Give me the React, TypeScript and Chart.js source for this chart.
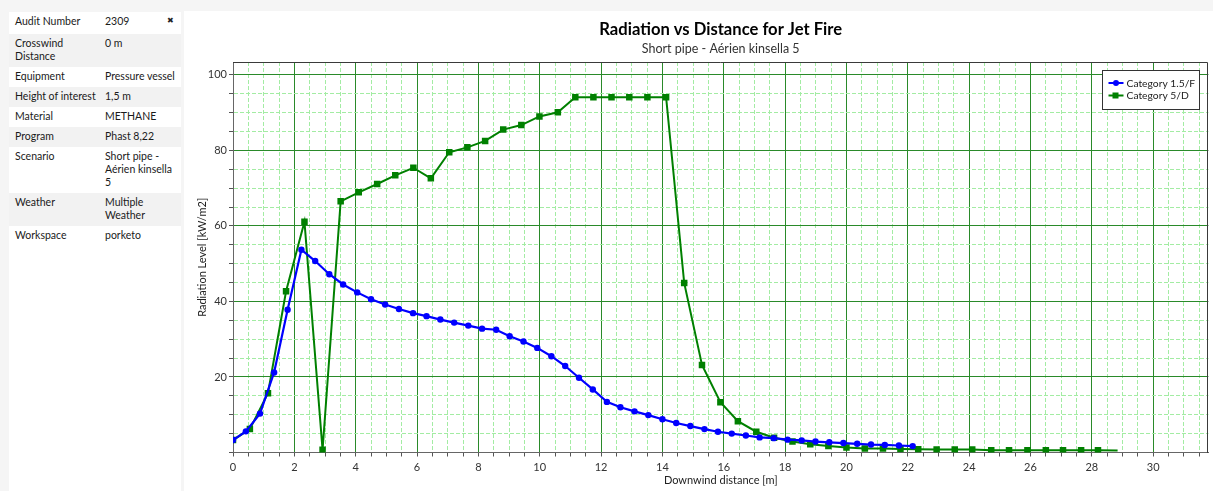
import React, { useEffect, useRef } from "react";
import { Chart, registerables } from "chart.js";

Chart.register(...registerables);

// Study details shown in the side panel
const infoLabels = [
  "Audit Number",
  "Crosswind\nDistance",
  "Equipment",
  "Height of interest",
  "Material",
  "Program",
  "Scenario",
  "Weather",
  "Workspace",
];
const infoValues = [
  "2309",
  "0 m",
  "Pressure vessel",
  "1,5 m",
  "METHANE",
  "Phast 8,22",
  "Short pipe -\nAérien kinsella\n5",
  "Multiple\nWeather",
  "porketo",
];

// Category 1.5/F: downwind distance [m] and radiation level [kW/m2]
const cat15FDistance = [
  0, 0.42, 0.88, 1.34, 1.78, 2.23, 2.68, 3.14, 3.59, 4.05,
  4.5, 4.96, 5.41, 5.87, 6.31, 6.76, 7.21, 7.67, 8.12, 8.58,
  9.02, 9.47, 9.92, 10.38, 10.83, 11.28, 11.73, 12.19, 12.63, 13.09,
  13.54, 14.0, 14.45, 14.91, 15.37, 15.81, 16.26, 16.72, 17.17, 17.63,
  18.08, 18.54, 18.99, 19.44, 19.9, 20.35, 20.8, 21.25, 21.71, 22.16,
];
const cat15FRadiation = [
  3.3, 5.6, 10.3, 21.2, 37.8, 53.7, 50.7, 47.2, 44.5, 42.4,
  40.6, 39.2, 38.0, 36.9, 36.1, 35.2, 34.4, 33.6, 32.8, 32.5,
  30.8, 29.4, 27.7, 25.5, 22.9, 19.8, 16.7, 13.4, 12.0, 10.9,
  9.9, 8.8, 7.8, 7.0, 6.2, 5.5, 5.0, 4.5, 4.0, 3.8,
  3.4, 3.2, 2.9, 2.7, 2.5, 2.3, 2.1, 2.0, 1.85, 1.7,
];

// Category 5/D: downwind distance [m] and radiation level [kW/m2]
const cat5DDistance = [
  0, 0.55, 1.14, 1.73, 2.33, 2.92, 3.51, 4.1, 4.7, 5.29,
  5.88, 6.45, 7.05, 7.64, 8.22, 8.81, 9.4, 9.99, 10.59, 11.16,
  11.75, 12.34, 12.92, 13.51, 14.12, 14.71, 15.29, 15.89, 16.46, 17.06,
  17.64, 18.24, 18.82, 19.41, 20.0, 20.6, 21.19, 21.76, 22.34, 22.94,
  23.53, 24.1, 24.72, 25.3, 25.9, 26.5, 27.06, 27.65, 28.2, 28.84,
];
const cat5DRadiation = [
  3.3, 6.2, 15.7, 42.7, 61.1, 0.7, 66.5, 68.9, 71.1, 73.4,
  75.4, 72.6, 79.5, 80.8, 82.5, 85.5, 86.7, 89.0, 90.1, 94.1,
  94.1, 94.1, 94.1, 94.1, 94.1, 44.9, 23.2, 13.3, 8.3, 5.5,
  3.9, 2.9, 2.2, 1.75, 1.3, 1.05, 1.05, 0.95, 0.87, 0.8,
  0.8, 0.8, 0.6, 0.6, 0.6, 0.6, 0.6, 0.6, 0.6, 0.5,
];

const seriesNames = ["Category 1.5/F", "Category 5/D"];

// Labelled ticks; the grid also carries minor lines between them
const xTickLabels = [0, 2, 4, 6, 8, 10, 12, 14, 16, 18, 20, 22, 24, 26, 28, 30];
const yTickLabels = [20, 40, 60, 80, 100];
const xMinorStep = 0.5;
const yMinorStep = 5;

const FONT = "Lato, 'Noto Sans', sans-serif";

const near = (a: number, b: number) => Math.abs(a - b) < 1e-6;
const isMultiple = (v: number, step: number) => near(v / step, Math.round(v / step));

const MAJOR_GRID = "#2a8a2a";
const MINOR_GRID = "#a3eca3";

// Frame on the top and right of the plot area
const plotFrame = {
  id: "plotFrame",
  afterDatasetsDraw(chart: any) {
    const { ctx, chartArea: a } = chart;
    ctx.save();
    ctx.strokeStyle = "#3a3a3a";
    ctx.lineWidth = 1;
    ctx.beginPath();
    ctx.moveTo(Math.round(a.left), Math.round(a.top) + 0.5);
    ctx.lineTo(Math.round(a.right) - 0.5, Math.round(a.top) + 0.5);
    ctx.lineTo(Math.round(a.right) - 0.5, Math.round(a.bottom));
    ctx.stroke();
    ctx.restore();
  },
};

// Boxed legend in the upper-right corner of the plot
const boxLegend = {
  id: "boxLegend",
  afterDraw(chart: any) {
    const { ctx, chartArea: a } = chart;
    const w = 97;
    const h = 39;
    const x0 = Math.round(a.right - 9 - w) + 0.5;
    const y0 = Math.round(a.top + 8) + 0.5;
    ctx.save();
    ctx.fillStyle = "#ffffff";
    ctx.fillRect(x0, y0, w, h);
    ctx.strokeStyle = "#333333";
    ctx.lineWidth = 1;
    ctx.strokeRect(x0, y0, w, h);
    chart.data.datasets.forEach((ds: any, i: number) => {
      const y = y0 + 12.5 + i * 12.5;
      ctx.strokeStyle = ds.borderColor;
      ctx.lineWidth = 2;
      ctx.beginPath();
      ctx.moveTo(x0 + 6, y);
      ctx.lineTo(x0 + 21, y);
      ctx.stroke();
      ctx.fillStyle = ds.borderColor;
      if (ds.pointStyle === "rect") {
        ctx.fillRect(x0 + 10, y - 3, 6, 6);
      } else {
        ctx.beginPath();
        ctx.arc(x0 + 13.5, y, 3, 0, Math.PI * 2);
        ctx.fill();
      }
      ctx.fillStyle = "#222222";
      ctx.font = `10.3px ${FONT}`;
      ctx.textBaseline = "middle";
      ctx.textAlign = "left";
      ctx.fillText(ds.label, x0 + 24, y + 0.5);
    });
    ctx.restore();
  },
};

function RadiationChart() {
  const canvasRef = useRef<HTMLCanvasElement | null>(null);

  useEffect(() => {
    if (!canvasRef.current) return;
    const toPoints = (xs: number[], ys: number[]) => xs.map((x, i) => ({ x, y: ys[i] }));

    const chart = new Chart(canvasRef.current, {
      type: "line",
      data: {
        datasets: [
          {
            label: seriesNames[0],
            data: toPoints(cat15FDistance, cat15FRadiation),
            borderColor: "#0000ff",
            backgroundColor: "#0000ff",
            borderWidth: 2.2,
            pointStyle: "circle",
            pointRadius: 3.2,
            pointBorderWidth: 0,
            tension: 0,
          },
          {
            label: seriesNames[1],
            data: toPoints(cat5DDistance, cat5DRadiation),
            borderColor: "#008000",
            backgroundColor: "#008000",
            borderWidth: 2,
            pointStyle: "rect",
            pointRadius: (c: any) => (c.dataIndex === cat5DDistance.length - 1 ? 0 : 4.6),
            pointBorderWidth: 0,
            tension: 0,
          },
        ],
      },
      options: {
        animation: false,
        responsive: false,
        devicePixelRatio: 1,
        layout: { padding: { left: 0, right: 2, top: 0, bottom: 0 } },
        plugins: {
          legend: { display: false },
          tooltip: { enabled: false },
          title: {
            display: true,
            text: "Radiation vs Distance for Jet Fire",
            color: "#000000",
            font: { family: FONT, size: 16.6, weight: "bold", lineHeight: 1.2 },
            padding: { top: 8.5, bottom: 0 },
            fullSize: false,
          },
          subtitle: {
            display: true,
            text: "Short pipe - Aérien kinsella 5",
            color: "#333333",
            font: { family: FONT, size: 12.5, lineHeight: 1.2 },
            padding: { top: 2, bottom: 5.6 },
            fullSize: false,
          },
        },
        scales: {
          x: {
            type: "linear",
            min: 0,
            max: 31.8,
            afterBuildTicks: (scale: any) => {
              const ticks = [];
              for (let v = 0; v <= scale.max + 1e-9; v += xMinorStep) ticks.push({ value: Math.round(v * 100) / 100 });
              scale.ticks = ticks;
            },
            afterFit: (scale: any) => {
              scale.height = 38.5;
            },
            ticks: {
              autoSkip: false,
              maxRotation: 0,
              minRotation: 0,
              padding: 4,
              color: "#333333",
              font: { family: FONT, size: 11 },
              callback: (v: any) => (xTickLabels.some((t) => near(t, Number(v))) ? String(v) : ""),
            },
            grid: {
              color: (c: any) => (c.tick && isMultiple(c.tick.value, 2) ? MAJOR_GRID : MINOR_GRID),
              lineWidth: 1,
              tickLength: 4,
              tickColor: "#555555",
              tickBorderDash: [],
            },
            border: {
              display: true,
              color: "#666666",
              width: 1,
              dash: (c: any) => (c.tick && !isMultiple(c.tick.value, 2) ? [4, 2] : []),
            },
            title: {
              display: true,
              text: "Downwind distance [m]",
              color: "#222222",
              font: { family: FONT, size: 11, lineHeight: 1.2 },
              padding: { top: 0, bottom: 4.4 },
            },
          },
          y: {
            type: "linear",
            min: 0,
            max: 103.4,
            afterBuildTicks: (scale: any) => {
              const ticks = [];
              for (let v = 0; v <= 100 + 1e-9; v += yMinorStep) ticks.push({ value: v });
              scale.ticks = ticks;
            },
            afterFit: (scale: any) => {
              scale.width = 49;
            },
            ticks: {
              autoSkip: false,
              padding: 2,
              color: "#333333",
              font: { family: FONT, size: 11 },
              callback: (v: any) => (yTickLabels.some((t) => near(t, Number(v))) ? String(v) : ""),
            },
            grid: {
              color: (c: any) => (c.tick && isMultiple(c.tick.value, 20) ? MAJOR_GRID : MINOR_GRID),
              lineWidth: 1,
              tickLength: 4,
              tickColor: "#555555",
              tickBorderDash: [],
            },
            border: {
              display: true,
              color: "#666666",
              width: 1,
              dash: (c: any) => (c.tick && !isMultiple(c.tick.value, 20) ? [4, 2] : []),
            },
            title: {
              display: true,
              text: "Radiation Level [kW/m2]",
              color: "#222222",
              font: { family: FONT, size: 11, lineHeight: 1.2 },
              padding: { top: 12, bottom: 0 },
            },
          },
        },
      },
      plugins: [plotFrame, boxLegend],
    } as any);

    return () => chart.destroy();
  }, []);

  return (
    <canvas
      ref={canvasRef}
      width={1029}
      height={480}
      style={{ position: "absolute", left: 184, top: 11, width: 1029, height: 480, background: "#ffffff" }}
    />
  );
}

function InfoPanel() {
  return (
    <div
      style={{
        position: "absolute",
        left: 9,
        top: 12,
        width: 172,
        height: 479,
        background: "#ffffff",
        fontFamily: FONT,
        fontSize: 10.5,
        lineHeight: "13px",
        color: "#1a1a1a",
      }}
    >
      {infoLabels.map((label, i) => (
        <div
          key={label}
          style={{
            position: "relative",
            display: "flex",
            padding: "3px 0 4px 0",
            minHeight: i === 0 ? 15 : 13,
            background: i % 2 === 1 ? "#f2f2f2" : "#ffffff",
          }}
        >
          <div style={{ width: 90, paddingLeft: 6, whiteSpace: "pre-line" }}>{label}</div>
          <div style={{ width: 76, whiteSpace: "pre-line" }}>{infoValues[i]}</div>
          {i === 0 && (
            <span style={{ position: "absolute", left: 158, top: 2, fontSize: 8, color: "#222" }}>✖</span>
          )}
        </div>
      ))}
    </div>
  );
}

export default function App() {
  return (
    <div
      style={{
        position: "absolute",
        left: 0,
        top: 0,
        width: 1213,
        height: 491,
        overflow: "hidden",
        background: "#f5f5f5",
      }}
    >
      <InfoPanel />
      <RadiationChart />
    </div>
  );
}
